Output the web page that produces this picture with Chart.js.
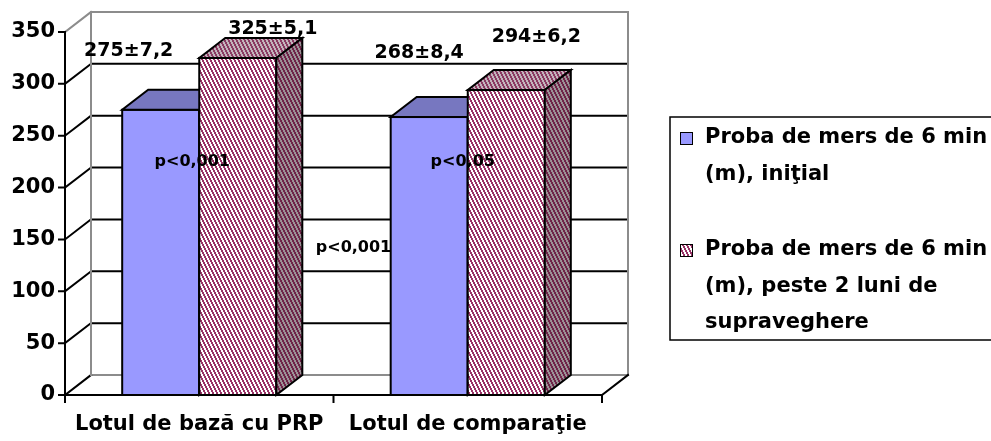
<!DOCTYPE html>
<html>
<head>
<meta charset="utf-8">
<script src="https://cdn.jsdelivr.net/npm/chart.js@4.4.1/dist/chart.umd.min.js"></script>
<style>
  html, body { margin: 0; padding: 0; background: #ffffff; }
  #wrap { width: 991px; height: 441px; position: relative; overflow: hidden; }
</style>
</head>
<body>
<div id="wrap"><canvas id="chart" width="991" height="441"></canvas></div>
<script>
// Six-minute walk test, distance in metres (mean ± error)
const categories = ['Lotul de bază cu PRP', 'Lotul de comparaţie'];
const initialMeans = [275, 268];
const initialErrors = [7.2, 8.4];
const followUpMeans = [325, 294];
const followUpErrors = [5.1, 6.2];
const seriesInitial = ['Proba de mers de 6 min', '(m), iniţial'];
const seriesFollowUp = ['Proba de mers de 6 min', '(m), peste 2 luni de', 'supraveghere'];
const pValues = ['p<0,001', 'p<0,05', 'p<0,001'];
const yMin = 0, yMax = 350, yStep = 50;

// ---- drawing settings ----
const FONT = '"DejaVu Sans", sans-serif';
const DEPTH_X = 26, DEPTH_Y = -20;

function stripes(bg, fg) {
  const c = document.createElement('canvas');
  c.width = 4; c.height = 8;
  const g = c.getContext('2d');
  g.fillStyle = bg; g.fillRect(0, 0, 4, 8);
  g.fillStyle = fg;
  for (let r = 0; r < 8; r++) {
    const s = Math.floor(r / 2);
    g.fillRect(s % 4, r, 1, 1);
    g.fillRect((s + 1) % 4, r, 1, 1);
  }
  return g.createPattern(c, 'repeat');
}
const hatchFront = stripes('#ffffff', '#993366');
const hatchTop = stripes('#c3b4bc', '#8a3a62');
const hatchSide = stripes('#9c9196', '#6e2448');

const faceStyles = [
  { front: '#9999ff', top: '#7777c0', side: '#5f5fa6' },
  { front: hatchFront, top: hatchTop, side: hatchSide }
];

// where each value label sits relative to the top-centre of its bar
const valueLabelOffsets = [
  [{ dx: -32, dy: -59 }, { dx: -10, dy: -64 }],
  [{ dx: 35, dy: -29 }, { dx: 30, dy: -53 }]
];
// significance notes: category position (fractional index) + value height
const pNotePlaces = [
  { at: 0, dx: -7, v: 225 },
  { at: 1, dx: -5, v: 225 },
  { at: 0.5, dx: 20, v: 142 }
];

const frame3d = {
  id: 'frame3d',
  beforeDatasetsDraw(chart) {
    const { ctx, chartArea: a, scales: { x, y } } = chart;
    ctx.save();
    ctx.lineCap = 'square';
    const ticks = [];
    for (let v = yMin; v <= yMax; v += yStep) ticks.push(v);
    // back wall grid + left wall diagonals
    ticks.forEach(v => {
      const py = y.getPixelForValue(v);
      const edge = (v === yMax);
      ctx.strokeStyle = edge || v === yMin ? '#8c8c8c' : '#000000';
      ctx.lineWidth = 2;
      ctx.beginPath();
      ctx.moveTo(a.left + DEPTH_X, py + DEPTH_Y);
      ctx.lineTo(a.right + DEPTH_X, py + DEPTH_Y);
      ctx.stroke();
      ctx.strokeStyle = edge ? '#8c8c8c' : '#000000';
      ctx.beginPath();
      ctx.moveTo(a.left, py);
      ctx.lineTo(a.left + DEPTH_X, py + DEPTH_Y);
      ctx.stroke();
    });
    // back wall verticals
    ctx.strokeStyle = '#8c8c8c';
    ctx.lineWidth = 2;
    [a.left, a.right].forEach(px => {
      ctx.beginPath();
      ctx.moveTo(px + DEPTH_X, a.top + DEPTH_Y);
      ctx.lineTo(px + DEPTH_X, a.bottom + DEPTH_Y);
      ctx.stroke();
    });
    // floor front edge and right edge
    ctx.strokeStyle = '#000000';
    ctx.beginPath();
    ctx.moveTo(a.left, a.bottom);
    ctx.lineTo(a.right, a.bottom);
    ctx.lineTo(a.right + DEPTH_X, a.bottom + DEPTH_Y);
    ctx.stroke();
    // value axis with tick marks
    ctx.beginPath();
    ctx.moveTo(a.left, a.top);
    ctx.lineTo(a.left, a.bottom);
    ticks.forEach(v => {
      const py = y.getPixelForValue(v);
      ctx.moveTo(a.left - 6, py);
      ctx.lineTo(a.left, py);
    });
    // category ticks
    for (let i = 0; i <= categories.length; i++) {
      const px = x.getPixelForValue(i - 0.5);
      ctx.moveTo(px, a.bottom);
      ctx.lineTo(px, a.bottom + 7);
    }
    ctx.stroke();
    ctx.restore();
  },
  // box faces drawn series by series so the second series sits in front
  afterDatasetsDraw(chart) {
    const { ctx } = chart;
    ctx.save();
    ctx.strokeStyle = '#000000';
    ctx.lineWidth = 2;
    ctx.lineJoin = 'miter';
    chart.data.datasets.forEach((ds, di) => {
      const st = faceStyles[di];
      chart.getDatasetMeta(di).data.forEach(bar => {
        const l = bar.x - bar.width / 2, r = bar.x + bar.width / 2;
        const t = bar.y, b = bar.base;
        // front face
        ctx.fillStyle = st.front;
        ctx.fillRect(l, t, r - l, b - t);
        ctx.strokeRect(l, t, r - l, b - t);
        // top face
        ctx.beginPath();
        ctx.moveTo(l, t);
        ctx.lineTo(r, t);
        ctx.lineTo(r + DEPTH_X, t + DEPTH_Y);
        ctx.lineTo(l + DEPTH_X, t + DEPTH_Y);
        ctx.closePath();
        ctx.fillStyle = st.top;
        ctx.fill();
        ctx.stroke();
        // side face
        ctx.beginPath();
        ctx.moveTo(r, t);
        ctx.lineTo(r + DEPTH_X, t + DEPTH_Y);
        ctx.lineTo(r + DEPTH_X, b + DEPTH_Y);
        ctx.lineTo(r, b);
        ctx.closePath();
        ctx.fillStyle = st.side;
        ctx.fill();
        ctx.stroke();
      });
    });
    ctx.restore();
  },
  afterDraw(chart) {
    const { ctx, scales: { x, y } } = chart;
    ctx.save();
    ctx.fillStyle = '#000000';
    ctx.textAlign = 'center';
    ctx.textBaseline = 'middle';
    // mean ± error labels
    const sets = [[initialMeans, initialErrors], [followUpMeans, followUpErrors]];
    ctx.font = 'bold 19px ' + FONT;
    sets.forEach(([means, errs], di) => {
      const meta = chart.getDatasetMeta(di);
      meta.data.forEach((bar, j) => {
        const o = valueLabelOffsets[di][j];
        const txt = means[j] + '±' + String(errs[j]).replace('.', ',');
        ctx.fillText(txt, bar.x + o.dx, bar.y + o.dy);
      });
    });
    // significance notes
    ctx.font = 'bold 16px ' + FONT;
    pNotePlaces.forEach((p, i) => {
      ctx.fillText(pValues[i], x.getPixelForValue(p.at) + p.dx, y.getPixelForValue(p.v));
    });
    // legend
    const L = { x: 670, y: 117, w: 340, h: 223 };
    ctx.lineWidth = 1.5;
    ctx.strokeStyle = '#000000';
    ctx.strokeRect(L.x, L.y, L.w, L.h);
    const items = [
      { lines: chart.data.datasets[0].label, fill: faceStyles[0].front, y0: L.y + 21 },
      { lines: chart.data.datasets[1].label, fill: faceStyles[1].front, y0: L.y + 133 }
    ];
    ctx.font = 'bold 21px ' + FONT;
    ctx.textAlign = 'left';
    items.forEach(it => {
      ctx.fillStyle = it.fill;
      ctx.fillRect(L.x + 10, it.y0 - 6, 13, 13);
      ctx.lineWidth = 1;
      ctx.strokeRect(L.x + 10.5, it.y0 - 5.5, 12, 12);
      ctx.fillStyle = '#000000';
      it.lines.forEach((ln, k) => ctx.fillText(ln, L.x + 35, it.y0 + k * 36.5));
    });
    ctx.restore();
  }
};

new Chart(document.getElementById('chart'), {
  type: 'bar',
  data: {
    labels: categories,
    datasets: [
      { label: seriesInitial, data: initialMeans, backgroundColor: faceStyles[0].front,
        borderColor: '#000000', borderWidth: 0 },
      { label: seriesFollowUp, data: followUpMeans, backgroundColor: faceStyles[1].front,
        borderColor: '#000000', borderWidth: 0 }
    ]
  },
  options: {
    responsive: false,
    devicePixelRatio: 1,
    animation: false,
    layout: { padding: { left: 0, top: 32, right: 389, bottom: 0 } },
    datasets: { bar: { barPercentage: 1, categoryPercentage: 0.574 } },
    plugins: { legend: { display: false }, tooltip: { enabled: false } },
    scales: {
      x: {
        grid: { display: false, drawTicks: false },
        border: { display: false },
        ticks: { color: '#000000', font: { family: FONT, size: 21, weight: 'bold' }, padding: 17, maxRotation: 0 },
        afterFit(s) { s.height = 46; }
      },
      y: {
        min: yMin, max: yMax,
        grid: { display: false, drawTicks: false },
        border: { display: false },
        ticks: { stepSize: yStep, color: '#000000', font: { family: FONT, size: 21, weight: 'bold' }, padding: 10 },
        afterFit(s) { s.width = 65; }
      }
    }
  },
  plugins: [frame3d]
});
</script>
</body>
</html>
